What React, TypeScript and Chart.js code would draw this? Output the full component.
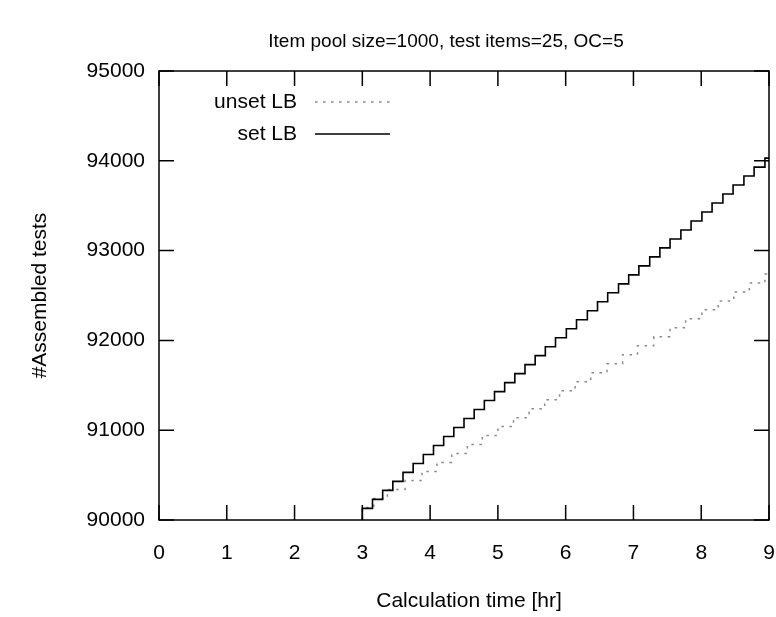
import React, { useEffect, useRef } from 'react';
import { Chart, registerables } from 'chart.js';

Chart.register(...registerables);

const TITLE = 'Item pool size=1000, test items=25, OC=5';
const X_LABEL = 'Calculation time [hr]';
const Y_LABEL = '#Assembled tests';
const X_TICKS = [0, 1, 2, 3, 4, 5, 6, 7, 8, 9];
const Y_TICKS = [90000, 91000, 92000, 93000, 94000, 95000];

const UNSET_LB_NAME = 'unset LB';
const UNSET_LB_TIME = [
  2.85, 3.0, 3.17, 3.37, 3.63, 3.88, 4.1, 4.32, 4.55, 4.77, 5.0, 5.23, 5.46, 5.69, 5.91,
  6.14, 6.37, 6.61, 6.84, 7.06, 7.3, 7.54, 7.77, 8.01, 8.25, 8.48, 8.71, 8.94, 9.0,
];
const UNSET_LB_TESTS = [
  89940, 90140, 90240, 90340, 90440, 90540, 90640, 90740, 90840, 90940, 91040, 91140, 91240,
  91340, 91440, 91540, 91640, 91740, 91840, 91940, 92040, 92140, 92240, 92340, 92440, 92540,
  92640, 92740, 92740,
];

const SET_LB_NAME = 'set LB';
const SET_LB_TIME = [
  2.85, 3.0, 3.15, 3.3, 3.45, 3.6, 3.75, 3.9, 4.05, 4.2, 4.35, 4.5, 4.65, 4.8, 4.95, 5.1, 5.25,
  5.4, 5.55, 5.7, 5.85, 6.01, 6.16, 6.32, 6.47, 6.62, 6.78, 6.93, 7.08, 7.24, 7.39, 7.54, 7.7,
  7.85, 8.01, 8.16, 8.32, 8.47, 8.63, 8.78, 8.94, 9.0,
];
const SET_LB_TESTS = [
  89930, 90130, 90230, 90330, 90430, 90530, 90630, 90730, 90830, 90930, 91030, 91130, 91230,
  91330, 91430, 91530, 91630, 91730, 91830, 91930, 92030, 92130, 92230, 92330, 92430, 92530,
  92630, 92730, 92830, 92930, 93030, 93130, 93230, 93330, 93430, 93530, 93630, 93730, 93830,
  93930, 94030, 94030,
];

const FONT_FAMILY = '"Liberation Sans", Arial, Helvetica, sans-serif';
const FONT_SIZE = 21;
const TITLE_SIZE = 19;
const UNSET_COLOR = '#8a8a8a';
const UNSET_DASH = [2.5, 5.5];
const SET_COLOR = '#000000';

const gnuplotFrame = {
  id: 'gnuplotFrame',
  afterDraw(chart: any) {
    const { ctx, chartArea } = chart;
    const { left, right, top, bottom } = chartArea;
    const xs = chart.scales.x;
    const ys = chart.scales.y;
    const tickLen = 15;
    ctx.save();
    ctx.strokeStyle = '#000';
    ctx.lineWidth = 1.5;
    ctx.strokeRect(left, top, right - left, bottom - top);
    ctx.beginPath();
    X_TICKS.forEach((v) => {
      const px = xs.getPixelForValue(v);
      ctx.moveTo(px, bottom);
      ctx.lineTo(px, bottom - tickLen);
      ctx.moveTo(px, top);
      ctx.lineTo(px, top + tickLen);
    });
    Y_TICKS.forEach((v) => {
      const py = ys.getPixelForValue(v);
      ctx.moveTo(left, py);
      ctx.lineTo(left + tickLen, py);
      ctx.moveTo(right, py);
      ctx.lineTo(right - tickLen, py);
    });
    ctx.stroke();

    ctx.fillStyle = '#000';
    ctx.textBaseline = 'middle';
    ctx.textAlign = 'center';
    ctx.font = `${TITLE_SIZE}px ${FONT_FAMILY}`;
    ctx.fillText(TITLE, 446, 42);
    ctx.font = `${FONT_SIZE}px ${FONT_FAMILY}`;
    ctx.fillText(X_LABEL, 469, 601);
    ctx.save();
    ctx.translate(40, (top + bottom) / 2);
    ctx.rotate(-Math.PI / 2);
    ctx.fillText(Y_LABEL, 0, 0);
    ctx.restore();

    const items = [
      { name: UNSET_LB_NAME, y: 102, color: UNSET_COLOR, dash: UNSET_DASH, width: 1.5 },
      { name: SET_LB_NAME, y: 134, color: SET_COLOR, dash: [] as number[], width: 1.5 },
    ];
    items.forEach((it) => {
      ctx.textAlign = 'right';
      ctx.fillStyle = '#000';
      ctx.fillText(it.name, 297, it.y);
      ctx.beginPath();
      ctx.strokeStyle = it.color;
      ctx.lineWidth = it.width;
      ctx.setLineDash(it.dash);
      ctx.moveTo(315, it.y);
      ctx.lineTo(390, it.y);
      ctx.stroke();
      ctx.setLineDash([]);
    });
    ctx.restore();
  },
};

export default function App() {
  const ref = useRef<HTMLCanvasElement | null>(null);

  useEffect(() => {
    if (!ref.current) return;
    const chart = new Chart(ref.current, {
      type: 'line',
      data: {
        datasets: [
          {
            label: SET_LB_NAME,
            data: SET_LB_TIME.map((t, i) => ({ x: t, y: SET_LB_TESTS[i] })),
            borderColor: SET_COLOR,
            borderWidth: 1.6,
            stepped: 'before',
            pointRadius: 0,
            fill: false,
            order: 0,
          },
          {
            label: UNSET_LB_NAME,
            data: UNSET_LB_TIME.map((t, i) => ({ x: t, y: UNSET_LB_TESTS[i] })),
            borderColor: UNSET_COLOR,
            borderWidth: 1.5,
            borderDash: UNSET_DASH,
            stepped: 'before',
            pointRadius: 0,
            fill: false,
            order: 1,
          },
        ],
      },
      options: {
        responsive: false,
        animation: false,
        devicePixelRatio: 1,
        layout: { padding: { top: 71, right: 7, left: 0, bottom: 0 } },
        plugins: {
          legend: { display: false },
          title: { display: false },
          tooltip: { enabled: false },
        },
        scales: {
          x: {
            type: 'linear',
            min: 0,
            max: 9,
            afterFit: (s: any) => {
              s.height = 97;
              s.paddingLeft = 0;
              s.paddingRight = 0;
            },
            afterBuildTicks: (s: any) => {
              s.ticks = X_TICKS.map((v) => ({ value: v }));
            },
            ticks: {
              color: '#000',
              padding: 21,
              maxRotation: 0,
              font: { family: FONT_FAMILY, size: FONT_SIZE },
            },
            grid: { display: false, drawTicks: false },
            border: { display: false },
          },
          y: {
            type: 'linear',
            min: 90000,
            max: 95000,
            afterFit: (s: any) => {
              s.width = 159;
              s.paddingTop = 0;
              s.paddingBottom = 0;
            },
            afterBuildTicks: (s: any) => {
              s.ticks = Y_TICKS.map((v) => ({ value: v }));
            },
            ticks: {
              color: '#000',
              padding: 14,
              font: { family: FONT_FAMILY, size: FONT_SIZE },
              callback: (v: any) => String(v),
            },
            grid: { display: false, drawTicks: false },
            border: { display: false },
          },
        },
      },
      plugins: [gnuplotFrame],
    });
    return () => chart.destroy();
  }, []);

  return (
    <div style={{ position: 'fixed', left: 0, top: 0, width: 776, height: 617, background: '#fff' }}>
      <canvas ref={ref} width={776} height={617} style={{ width: 776, height: 617, display: 'block' }} />
    </div>
  );
}
